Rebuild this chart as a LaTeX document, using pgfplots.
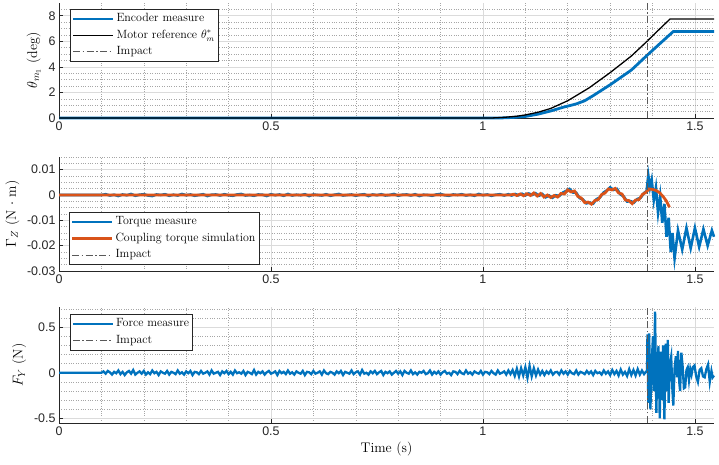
\documentclass[border=0pt]{standalone}
\usepackage{pgfplots}
\pgfplotsset{compat=1.18}
\usepackage{fontspec}
\newfontfamily\tickfont{Liberation Sans}
\definecolor{mblue}{rgb}{0,0.447,0.741}
\definecolor{morange}{rgb}{0.85,0.325,0.098}
\definecolor{axgray}{rgb}{0.15,0.15,0.15}
\pgfplotsset{
  mystyle/.style={
    scale only axis, width=655bp,
    xmin=0, xmax=1.545,
    xtick={0,0.5,1,1.5}, xticklabels={0,0.5,1,1.5},
    minor xtick={0.1,0.2,0.3,0.4,0.6,0.7,0.8,0.9,1.1,1.2,1.3,1.4},
    scaled y ticks=false, scaled x ticks=false,
    grid=both,
    major grid style={black!14, line width=0.6pt},
    minor grid style={black!35, dotted, line width=0.5pt},
    axis x line*=bottom, axis y line*=left,
    axis line style={axgray, line width=0.6pt},
    tick align=inside, major tick length=4bp, minor tick length=0pt,
    tick style={axgray, line width=0.6pt},
    tick label style={font=\tickfont\fontsize{12.5}{14}\selectfont, text=axgray},
    label style={font=\fontsize{14}{16}\selectfont},
    ylabel style={yshift=1bp},
    legend style={font=\fontsize{12}{14}\selectfont, draw=axgray, line width=0.5pt, fill=white, inner sep=1.5pt,
      nodes={text height=9pt, text depth=3.5pt}},
    legend cell align=left,
    legend image code/.code={\draw[##1] (0bp,0bp) -- (40bp,0bp);},
    clip=false,
  },
  impact/.style={color=black!65, line width=1pt, dash pattern=on 7bp off 2.5bp on 1.5bp off 2.5bp},
}
\begin{document}
\begin{tikzpicture}
\useasboundingbox (0,0) rectangle (719bp,465bp);
% ---------------- top ----------------
\begin{axis}[mystyle, at={(59bp,347bp)}, anchor=south west, height=115bp,
  ymin=0, ymax=9, ytick={0,2,4,6,8}, yticklabels={0,2,4,6,8},
  minor ytick={0.5,1,1.5,2.5,3,3.5,4.5,5,5.5,6.5,7,7.5,8.5},
  ylabel={$\theta_{m_1}$ (deg)},
  legend style={at={(0,1)}, anchor=north west, xshift=11bp, yshift=-6bp}]
\addplot[mblue, line width=2.8pt] coordinates {
(0,0) (1.04,0) (1.07,0.04) (1.1,0.12) (1.13,0.3) (1.16,0.55) (1.19,0.85) (1.22,1.1) (1.24,1.35) (1.26,1.75) (1.3,2.6) (1.35,3.75) (1.387,4.9) (1.42,5.9) (1.449,6.77) (1.545,6.77)};
\addlegendentry{Encoder measure}
\addplot[black, line width=1.3pt] coordinates {
(0,0) (1.02,0) (1.05,0.05) (1.08,0.14) (1.1,0.24) (1.13,0.45) (1.16,0.75) (1.2,1.35) (1.25,2.35) (1.3,3.55) (1.35,4.85) (1.387,6.0) (1.41,6.75) (1.441,7.74) (1.545,7.74)};
\addlegendentry{Motor reference $\theta_m^*$}
\addplot[impact] coordinates {(1.387,0) (1.387,9)};
\addlegendentry{Impact}
\end{axis}
% ---------------- middle ----------------
\begin{axis}[mystyle, at={(59bp,194bp)}, anchor=south west, height=114bp,
  ymin=-0.03, ymax=0.015, ytick={-0.03,-0.02,-0.01,0,0.01}, yticklabels={-0.03,-0.02,-0.01,0,0.01},
  minor ytick={-0.0275,-0.025,-0.0225,-0.0175,-0.015,-0.0125,-0.0075,-0.005,-0.0025,0.0025,0.005,0.0075,0.0125,0.015},
  ylabel={$\Gamma_Z$ (N $\cdot$ m)},
  legend style={at={(0,0)}, anchor=south west, xshift=10bp, yshift=6bp}]
\addplot[mblue, line width=2.6pt] coordinates {
(0,0) (0.10,0) (0.11,0.0003) (0.12,-0.0002) (0.13,0.0001) (0.14,-0.0004) (0.15,0.0002) (0.16,-0.0001) (0.17,0.0004) (0.18,-0.0003) (0.19,0.0001)
(0.20,0.0003) (0.21,-0.0002) (0.22,-0.0004) (0.23,0.0002) (0.24,0) (0.25,0.0003) (0.26,-0.0003) (0.27,0.0001) (0.28,-0.0002) (0.29,0.0004)
(0.30,-0.0001) (0.31,0.0002) (0.32,-0.0003) (0.33,0) (0.34,0.0003) (0.35,-0.0004) (0.36,0.0001) (0.37,0.0002) (0.38,-0.0002) (0.39,0.0003)
(0.40,-0.0001) (0.41,-0.0003) (0.42,0.0002) (0.43,0.0004) (0.44,-0.0002) (0.45,0) (0.46,-0.0003) (0.47,0.0002) (0.48,0.0001) (0.49,-0.0004)
(0.50,0.0003) (0.51,-0.0001) (0.52,0.0002) (0.53,-0.0003) (0.54,0.0004) (0.55,-0.0002) (0.56,0.0001) (0.57,-0.0001) (0.58,0.0003) (0.59,-0.0004)
(0.60,0.0002) (0.61,0) (0.62,-0.0002) (0.63,0.0003) (0.64,-0.0003) (0.65,0.0001) (0.66,0.0004) (0.67,-0.0002) (0.68,0) (0.69,0.0002)
(0.70,-0.0003) (0.71,0.0001) (0.72,0.0003) (0.73,-0.0004) (0.74,0.0002) (0.75,-0.0001) (0.76,0.0003) (0.77,-0.0002) (0.78,0) (0.79,0.0004)
(0.80,-0.0003) (0.81,0.0001) (0.82,0.0002) (0.83,-0.0002) (0.84,0.0003) (0.85,-0.0004) (0.86,0.0001) (0.87,0) (0.88,-0.0003) (0.89,0.0002)
(0.90,0.0004) (0.91,-0.0001) (0.92,-0.0003) (0.93,0.0002) (0.94,0) (0.95,0.0003) (0.96,-0.0002) (0.97,0.0001) (0.98,-0.0003) (0.99,0.0004)
(1.00,-0.0001) (1.01,0.0002) (1.02,-0.0003) (1.03,0.0001) (1.04,0.0003) (1.05,-0.0002)
(1.060,0.0003) (1.068,-0.0002) (1.076,0.0004) (1.084,-0.0001) (1.092,0.0005) (1.100,-0.0002) (1.108,0.0006) (1.116,0.0000) (1.124,0.0007) (1.132,-0.0003)
(1.140,0.0004) (1.148,-0.0009) (1.156,-0.0002) (1.164,-0.0011) (1.172,-0.0001) (1.180,-0.0004) (1.188,0.0009) (1.196,0.0016) (1.204,0.0024) (1.212,0.0010)
(1.220,0.0009) (1.228,-0.0012) (1.236,-0.0018) (1.244,-0.0033) (1.252,-0.0030) (1.260,-0.0034) (1.268,-0.0016) (1.276,-0.0010) (1.284,0.0009) (1.292,0.0018)
(1.300,0.0030) (1.308,0.0020) (1.316,0.0024) (1.324,0.0003) (1.332,-0.0006) (1.340,-0.0026) (1.348,-0.0024) (1.356,-0.0030) (1.364,-0.0016) (1.372,-0.0011)
(1.380,0.0008) (1.386,0.0015) (1.390,0.0078) (1.394,0.0030) (1.398,0.0060) (1.403,-0.0020) (1.408,0.0030) (1.413,-0.0070) (1.418,-0.0005) (1.423,-0.0110)
(1.428,-0.0035) (1.433,-0.0165) (1.438,-0.0090) (1.443,-0.0225) (1.447,-0.0150) (1.452,-0.0250) (1.460,-0.0140) (1.470,-0.0215) (1.480,-0.0130) (1.490,-0.0210)
(1.500,-0.0130) (1.510,-0.0205) (1.520,-0.0135) (1.530,-0.0200) (1.540,-0.0140) (1.545,-0.0165)};
\addlegendentry{Torque measure}
\addplot[morange, line width=2.8pt] coordinates {
(0,0) (1.056,0) (1.064,0.0000) (1.072,0.0003) (1.080,-0.0002) (1.088,0.0004) (1.096,-0.0003) (1.104,0.0005) (1.112,-0.0002) (1.120,0.0008)
(1.128,-0.0004) (1.136,0.0006) (1.144,-0.0008) (1.152,0.0000) (1.160,-0.0010) (1.168,-0.0002) (1.176,-0.0008) (1.184,0.0006) (1.192,0.0004) (1.200,0.0020)
(1.208,0.0012) (1.216,0.0016) (1.224,-0.0006) (1.232,-0.0012) (1.240,-0.0030) (1.248,-0.0028) (1.256,-0.0036) (1.264,-0.0022) (1.272,-0.0018) (1.280,0.0002)
(1.288,0.0008) (1.296,0.0024) (1.304,0.0020) (1.312,0.0026) (1.320,0.0008) (1.328,0.0004) (1.336,-0.0020) (1.344,-0.0022) (1.352,-0.0034) (1.360,-0.0020)
(1.368,-0.0018) (1.376,0.0002) (1.384,0.0010) (1.392,0.0024) (1.400,0.0022) (1.408,0.0018) (1.416,0.0010) (1.424,-0.0004) (1.432,-0.0022) (1.440,-0.0048)};
\addlegendentry{Coupling torque simulation}
\addplot[impact] coordinates {(1.387,-0.03) (1.387,0.015)};
\addlegendentry{Impact}
\end{axis}
% ---------------- bottom ----------------
\begin{axis}[mystyle, at={(59bp,42bp)}, anchor=south west, height=116bp,
  ymin=-0.55, ymax=0.72, ytick={-0.5,0,0.5}, yticklabels={-0.5,0,0.5},
  minor ytick={-0.4,-0.3,-0.2,-0.1,0.1,0.2,0.3,0.4,0.6,0.7},
  ylabel={$F_Y$ (N)}, xlabel={Time (s)},
  legend style={at={(0,1)}, anchor=north west, xshift=11bp, yshift=-7bp}]
\addplot[mblue, line width=2.3pt] coordinates {
(0,0) (0.100,0) (0.105,0.015) (0.110,-0.01) (0.115,0.02) (0.120,0.005) (0.125,-0.02) (0.130,0.01) (0.135,-0.005) (0.140,0.025) (0.145,-0.015)
(0.150,0.01) (0.155,-0.025) (0.160,0.005) (0.165,0.02) (0.170,-0.01) (0.175,0.03) (0.180,-0.02) (0.185,0) (0.190,0.015) (0.195,-0.01)
(0.200,0.02) (0.205,-0.02) (0.210,0.005) (0.215,-0.015) (0.220,0.025) (0.225,-0.005) (0.230,0.01) (0.235,-0.025) (0.240,0.015) (0.245,0)
(0.250,-0.01) (0.255,0.02) (0.260,-0.02) (0.265,0.01) (0.270,0) (0.275,-0.015) (0.280,0.025) (0.285,-0.01) (0.290,0.005) (0.295,-0.02)
(0.300,0.015) (0.305,-0.005) (0.310,0.02) (0.315,-0.025) (0.320,0.01) (0.325,0.005) (0.330,-0.015) (0.335,0.02) (0.340,-0.01) (0.345,0)
(0.350,0.015) (0.355,-0.02) (0.360,0.025) (0.365,-0.01) (0.370,0) (0.375,0.01) (0.380,-0.025) (0.385,0.015) (0.390,-0.005) (0.395,0.02)
(0.400,-0.015) (0.405,0.01) (0.410,-0.02) (0.415,0.025) (0.420,-0.005) (0.425,0.005) (0.430,-0.01) (0.435,0.02) (0.440,-0.025) (0.445,0.01)
(0.450,0) (0.455,-0.015) (0.460,0.03) (0.465,-0.02) (0.470,0.01) (0.475,-0.005) (0.480,0.015) (0.485,-0.02) (0.490,0.005) (0.495,0.02)
(0.500,-0.01) (0.505,0) (0.510,0.015) (0.515,-0.025) (0.520,0.02) (0.525,-0.005) (0.530,0.01) (0.535,-0.015) (0.540,0.025) (0.545,-0.01)
(0.550,0.005) (0.555,-0.02) (0.560,0.015) (0.565,0) (0.570,-0.01) (0.575,0.02) (0.580,-0.025) (0.585,0.01) (0.590,0.005) (0.595,-0.015)
(0.600,0.02) (0.605,-0.01) (0.610,0) (0.615,0.015) (0.620,-0.02) (0.625,0.025) (0.630,-0.005) (0.635,-0.015) (0.640,0.01) (0.645,0)
(0.650,-0.02) (0.655,0.015) (0.660,-0.005) (0.665,0.02) (0.670,-0.025) (0.675,0.01) (0.680,0) (0.685,-0.01) (0.690,0.025) (0.695,-0.015)
(0.700,0.005) (0.705,0.015) (0.710,-0.02) (0.715,0.03) (0.720,-0.01) (0.725,0) (0.730,-0.02) (0.735,0.015) (0.740,-0.005) (0.745,0.02)
(0.750,-0.015) (0.755,0.005) (0.760,0.02) (0.765,-0.025) (0.770,0.01) (0.775,-0.005) (0.780,0.015) (0.785,-0.02) (0.790,0) (0.795,0.02)
(0.800,-0.01) (0.805,0.015) (0.810,-0.025) (0.815,0.02) (0.820,0) (0.825,-0.01) (0.830,0.025) (0.835,-0.015) (0.840,0.005) (0.845,-0.02)
(0.850,0.01) (0.855,0) (0.860,0.02) (0.865,-0.015) (0.870,-0.005) (0.875,0.025) (0.880,-0.02) (0.885,0.01) (0.890,-0.01) (0.895,0.015)
(0.900,-0.02) (0.905,0.005) (0.910,0.02) (0.915,-0.01) (0.920,0) (0.925,-0.025) (0.930,0.015) (0.935,0.01) (0.940,-0.015) (0.945,0.02)
(0.950,-0.005) (0.955,-0.015) (0.960,0.025) (0.965,-0.01) (0.970,0.005) (0.975,-0.02) (0.980,0.015) (0.985,0) (0.990,-0.01) (0.995,0.02)
(1.000,-0.02) (1.005,0.01) (1.010,0.005) (1.015,-0.015) (1.020,0.02) (1.025,-0.005) (1.030,-0.02) (1.035,0.025) (1.040,-0.01) (1.045,0)
(1.050,0.015) (1.055,-0.02) (1.060,0.025) (1.065,-0.015) (1.070,0.03) (1.075,-0.035) (1.080,0.045) (1.085,-0.04) (1.090,0.05) (1.095,-0.03)
(1.100,0.06) (1.105,-0.055) (1.110,0.075) (1.115,-0.04) (1.120,0.05) (1.125,-0.03) (1.130,0.035) (1.135,-0.02) (1.140,0.02) (1.145,-0.025)
(1.150,0.015) (1.155,-0.01) (1.160,0.025) (1.165,-0.02) (1.170,0.005) (1.175,0.01) (1.180,-0.02) (1.185,0.025) (1.190,-0.01) (1.195,0.015)
(1.200,-0.02) (1.205,0.02) (1.210,-0.005) (1.215,-0.015) (1.220,0.025) (1.225,-0.02) (1.230,0.01) (1.235,0) (1.240,-0.015) (1.245,0.02)
(1.250,-0.01) (1.255,0.015) (1.260,-0.025) (1.265,0.02) (1.270,-0.005) (1.275,0.005) (1.280,-0.02) (1.285,0.025) (1.290,-0.01) (1.295,0.015)
(1.300,-0.025) (1.305,0.03) (1.310,-0.015) (1.315,0.02) (1.320,-0.03) (1.325,0.035) (1.330,-0.02) (1.335,0.01) (1.340,-0.035) (1.345,0.04)
(1.350,-0.025) (1.355,0.03) (1.360,-0.03) (1.365,0.04) (1.370,-0.02) (1.375,0.025) (1.380,-0.015) (1.384,0.01)
(1.387,0.01) (1.388,0.42) (1.390,-0.33) (1.392,0.43) (1.395,-0.40) (1.398,0.10) (1.401,0.40) (1.403,-0.20) (1.406,0.67) (1.409,-0.44)
(1.411,0.05) (1.414,0.29) (1.417,-0.50) (1.420,0.23) (1.422,-0.30) (1.425,0.30) (1.428,-0.51) (1.431,0.32) (1.434,-0.20) (1.436,0.36)
(1.438,-0.33) (1.441,0.10) (1.444,0.18) (1.447,-0.20) (1.449,-0.36) (1.452,0.05) (1.455,0.18) (1.458,-0.05) (1.460,0.24) (1.463,-0.10)
(1.465,-0.20) (1.468,0.22) (1.471,0.07) (1.474,-0.17) (1.477,-0.16) (1.480,0.03) (1.483,0.06) (1.486,-0.08) (1.489,0.04) (1.492,-0.02)
(1.495,0.06) (1.499,0.08) (1.503,-0.04) (1.507,-0.10) (1.511,0.03) (1.515,0.05) (1.519,-0.04) (1.523,-0.05) (1.527,0.04) (1.531,0.09)
(1.535,-0.10) (1.539,0.02) (1.542,-0.05) (1.545,-0.03)};
\addlegendentry{Force measure}
\addplot[impact] coordinates {(1.387,-0.55) (1.387,0.72)};
\addlegendentry{Impact}
\end{axis}
\end{tikzpicture}
\end{document}
